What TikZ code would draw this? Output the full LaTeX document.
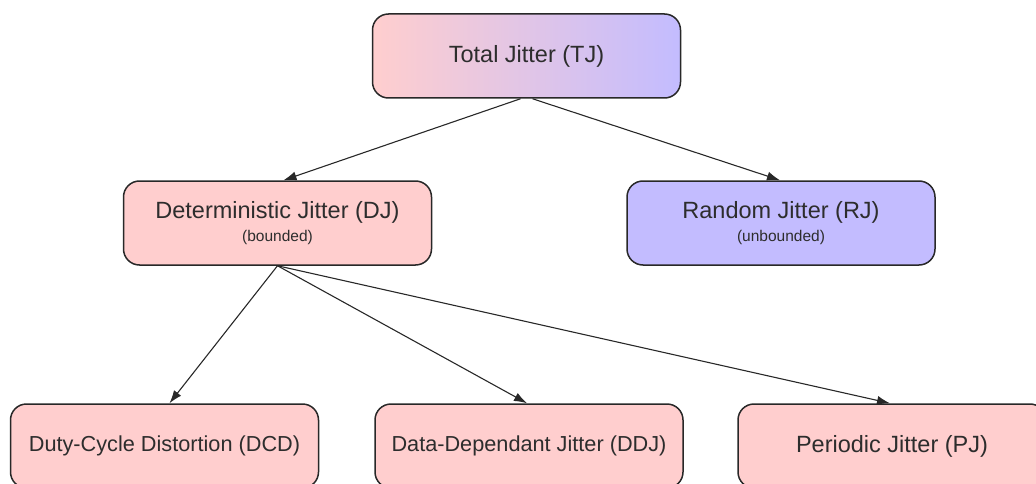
\documentclass[tikz,border=0pt]{standalone}
\usepackage{fontspec}
\setmainfont{Liberation Sans}
\usetikzlibrary{arrows.meta}
\definecolor{pinkfill}{RGB}{255,206,206}
\definecolor{violetfill}{RGB}{195,188,255}
\definecolor{edgegray}{RGB}{40,40,40}
\definecolor{txtgray}{RGB}{45,45,45}
\tikzset{
  jbox/.style={draw=edgegray, line width=1.5pt, rounded corners=16pt,
    minimum width=308pt, minimum height=84pt, inner sep=0pt, align=center,
    text=txtgray, font=\fontsize{23.5}{23}\selectfont},
  pinkbox/.style={jbox, fill=pinkfill},
  violetbox/.style={jbox, fill=violetfill},
  gradbox/.style={jbox, left color=pinkfill, right color=violetfill},
  smallfont/.style={font=\fontsize{21.7}{23}\selectfont},
  conn/.style={draw=edgegray, line width=1.1pt, -{Latex[length=13pt,width=9pt]}},
}
\newcommand{\subtxt}[1]{{\fontsize{15.5}{16}\selectfont #1}}
\begin{document}
\begin{tikzpicture}[x=1pt,y=-1pt]
\useasboundingbox (0,0) rectangle (1036,484);
\node[gradbox] (TJ) at (526.5,56) {Total Jitter (TJ)};
\node[pinkbox] (DJ) at (277.5,223) {Deterministic Jitter (DJ)\\[0pt]\subtxt{(bounded)}};
\node[violetbox] (RJ) at (781,223) {Random Jitter (RJ)\\[0pt]\subtxt{(unbounded)}};
\node[pinkbox, smallfont] (DCD) at (164.5,446) {Duty-Cycle Distortion (DCD)};
\node[pinkbox, smallfont] (DDJ) at (529,446) {Data-Dependant Jitter (DDJ)};
\node[pinkbox] (PJ) at (892,446) {Periodic Jitter (PJ)};
\draw[conn] ([xshift=-6pt]TJ.south) -- ([xshift=6pt]DJ.north);
\draw[conn] ([xshift=6pt]TJ.south) -- ([xshift=-1pt]RJ.north);
\draw[conn] (DJ.south) -- ([xshift=5pt]DCD.north);
\draw[conn] (DJ.south) -- ([xshift=-2pt]DDJ.north);
\draw[conn] (DJ.south) -- ([xshift=-2pt]PJ.north);
\end{tikzpicture}
\end{document}
